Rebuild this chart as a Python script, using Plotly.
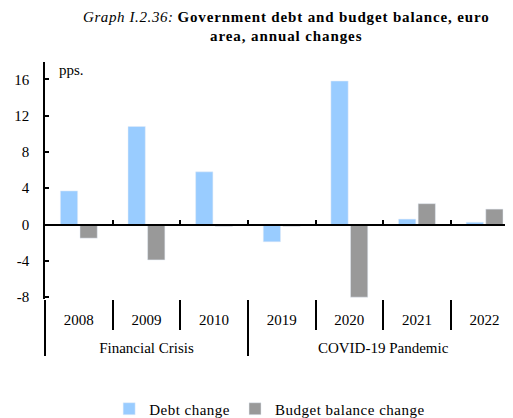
import plotly.graph_objects as go

# data
groups = ["Financial Crisis"] * 3 + ["COVID-19 Pandemic"] * 4
years = ["2008", "2009", "2010", "2019", "2020", "2021", "2022"]
debt_change = [3.7, 10.8, 5.8, -1.9, 15.8, 0.6, 0.25]
budget_change = [-1.5, -3.9, -0.2, -0.2, -8.0, 2.3, 1.7]

y_ticks = [-8, -4, 0, 4, 8, 12, 16]
y_tick_text = ["-8", "-4", "0", "4", "8", "12", "16"]
Y_MIN, Y_MAX = -8.2, 17.9
X_RANGE = [-0.5, 6.42]

FONT = "Liberation Serif"
BLUE = "#99ccff"
GREY = "#999999"

# the page body keeps its default 8px margin, so the figure is 8px smaller
W, H = 505, 410


def spaced(text, px=0.6):
    return f"<span style='letter-spacing:{px}px'>{text}</span>"


# "<br>" pushes the group row down, away from the year row
group_labels = ["<br>" + g for g in groups]

fig = go.Figure()

fig.add_trace(go.Bar(
    x=[group_labels, years], y=debt_change,
    name=spaced("Debt change", 0.5),
    marker=dict(color=BLUE),
))
fig.add_trace(go.Bar(
    x=[group_labels, years], y=budget_change,
    name=spaced("Budget balance change", 0.5),
    marker=dict(color=GREY),
))

# helper trace so the zero-line axis (xaxis2) gets its categories
fig.add_trace(go.Bar(
    x=years, y=debt_change, xaxis="x2", yaxis="y",
    opacity=0, showlegend=False, hoverinfo="skip",
))

zero_pos = (0 - Y_MIN) / (Y_MAX - Y_MIN)

fig.update_layout(
    width=W, height=H,
    margin=dict(l=37, r=0, t=54, b=119),
    paper_bgcolor="white",
    plot_bgcolor="white",
    font=dict(family=FONT, size=13, color="black"),
    barmode="group",
    bargap=0.42,
    bargroupgap=0.12,
    title=dict(
        text=("<i>" + spaced("Graph I.2.36:", 0.6) + "</i> <b>"
              + spaced("Government debt and budget balance, euro", 0.85)
              + "</b><br><b>" + spaced("area, annual changes", 0.9) + "</b>"),
        x=0.551, xanchor="center", y=0.967, yanchor="top",
        font=dict(family=FONT, size=15),
    ),
    xaxis=dict(
        type="multicategory",
        automargin=False,
        range=X_RANGE,
        showline=False,
        ticks="outside",
        tickson="boundaries",
        ticklen=30,
        tickwidth=1.5,
        tickcolor="black",
        showdividers=True,
        dividercolor="black",
        dividerwidth=1.5,
        showgrid=False,
        ticklabelstandoff=10,
        tickfont=dict(family=FONT, size=15),
    ),
    xaxis2=dict(
        type="category",
        automargin=False,
        overlaying="x",
        anchor="free",
        position=zero_pos,
        range=X_RANGE,
        showline=True,
        linecolor="black",
        linewidth=1.5,
        ticks="inside",
        tickson="boundaries",
        ticklen=4,
        tickwidth=1.5,
        tickcolor="black",
        showticklabels=False,
        showgrid=False,
    ),
    yaxis=dict(
        automargin=False,
        range=[Y_MIN, Y_MAX],
        tickvals=y_ticks,
        ticktext=y_tick_text,
        showline=True,
        linecolor="black",
        linewidth=1.5,
        ticks="inside",
        ticklen=4,
        tickwidth=1.5,
        tickcolor="black",
        showgrid=False,
        zeroline=False,
        tickfont=dict(family=FONT, size=15),
        ticklabelstandoff=11,
    ),
    legend=dict(
        orientation="h",
        xref="paper", yref="container",
        x=0.48, xanchor="center",
        y=0.022, yanchor="middle",
        font=dict(family=FONT, size=15),
        itemwidth=30,
        traceorder="normal",
    ),
    showlegend=True,
)

fig.add_annotation(
    text="pps.", xref="paper", yref="paper",
    x=0.025, y=1.01, xanchor="left", yanchor="top",
    showarrow=False, font=dict(family=FONT, size=15),
)

fig.write_html("out.html")
